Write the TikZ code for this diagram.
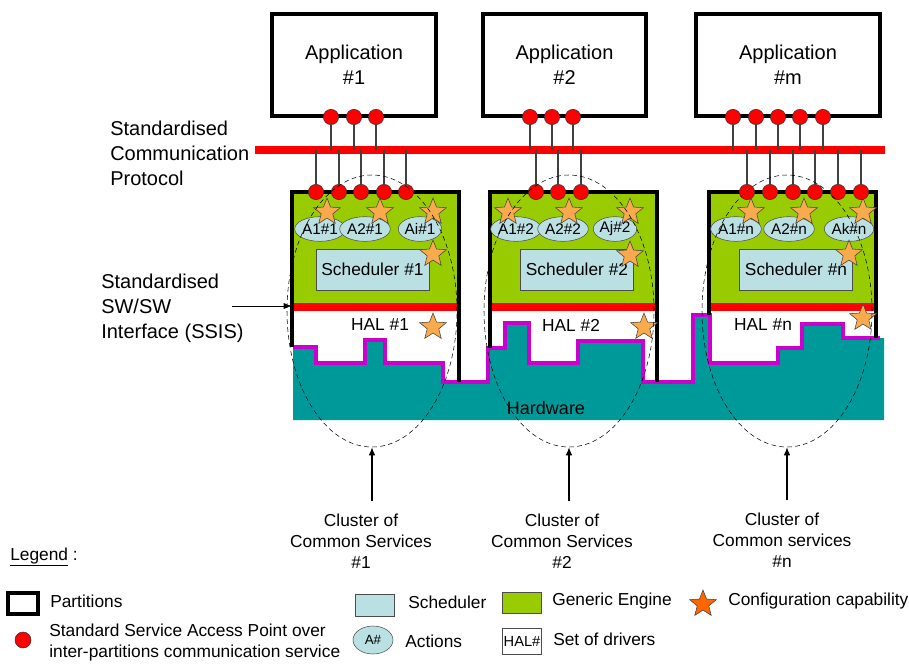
\documentclass[tikz,border=0pt]{standalone}
\usepackage{fontspec}
\setmainfont{Liberation Sans}
\usetikzlibrary{arrows.meta,positioning,shapes.geometric}
\definecolor{enggreen}{RGB}{153,204,0}
\definecolor{schedblue}{RGB}{187,224,227}
\definecolor{hwteal}{RGB}{0,153,153}
\definecolor{halmag}{RGB}{204,0,204}
\definecolor{cfgorange}{RGB}{248,170,76}
\definecolor{lgorange}{RGB}{255,102,0}
\tikzset{
  sap/.style={circle,draw=black!80,thin,fill=red,inner sep=0,minimum size=11.5pt},
  action/.style={ellipse,draw=black!70,fill=schedblue,inner sep=0,minimum width=28pt,minimum height=18.5pt,font=\fontsize{11.5}{11.5}\selectfont},
  sched/.style={draw=black!70,fill=schedblue,inner sep=0,minimum width=84.5pt,minimum height=30.5pt,font=\fontsize{13}{13}\selectfont},
  cfg/.style={star,star points=5,star point ratio=2.3,draw=black!75,fill=cfgorange,inner sep=0,minimum size=21pt},
  halname/.style={font=\fontsize{13}{13}\selectfont},
  cluster/.style={ellipse,draw,dash pattern=on 3.5pt off 2.5pt,thin,inner sep=0,minimum width=127.5pt,minimum height=204pt},
  caption/.style={align=center,inner ysep=9pt,font=\fontsize{13}{15.75}\selectfont},
  sidelabel/.style={anchor=west,align=left,inner sep=0,font=\fontsize{15}{18.75}\selectfont},
  legtext/.style={anchor=west,align=left,inner sep=0,font=\fontsize{13}{15.75}\selectfont},
  pointer/.style={-{Latex[length=6pt,width=5pt]},line width=0.9pt}
}
\begin{document}
\begin{tikzpicture}[x=0.75pt,y=-0.75pt]
  \useasboundingbox (0,0) rectangle (909,664);

  \begin{scope}[every node/.style={draw,line width=3pt,minimum height=76.5pt,align=center,font=\fontsize{15}{18.75}\selectfont}]
    \node (app1) [minimum width=123pt] at (354,65) {Application\\\#1};
    \node (app2) [minimum width=122.25pt] at (564.5,65) {Application\\\#2};
    \node (appm) [minimum width=138pt] at (788,65) {Application\\\#m};
  \end{scope}

  \node (bar) [fill=red,inner sep=0,minimum width=472.5pt,minimum height=6pt] at (570,150) {};
  \node (protolab) [sidelabel] at (110,153) {Standardised\\Communication\\Protocol};
  \node (ssislab) [sidelabel] at (101,308) {Standardised\\SW/SW\\Interface (SSIS)};

  \fill[hwteal] (293,347) -- (316,347) -- (316,363) -- (365,363) -- (365,340) -- (385,340) -- (385,363)
    -- (443,363) -- (443,382) -- (488,382) -- (488,348) -- (505,348) -- (505,323) -- (529,323)
    -- (529,363) -- (578,363) -- (578,341) -- (643,341) -- (643,382) -- (693,382) -- (693,315)
    -- (710,315) -- (710,363) -- (778,363) -- (778,348) -- (802,348) -- (802,324) -- (843,324)
    -- (843,338) -- (884,338) -- (884,420) -- (293,420) -- cycle;
  \draw[halmag,line width=3.5pt] (293,347) -- (316,347) -- (316,363) -- (365,363) -- (365,340) -- (385,340) -- (385,363)
    -- (443,363) -- (443,382) -- (488,382) -- (488,348) -- (505,348) -- (505,323) -- (529,323)
    -- (529,363) -- (578,363) -- (578,341) -- (643,341) -- (643,382) -- (693,382) -- (693,315)
    -- (710,315) -- (710,363) -- (778,363) -- (778,348) -- (802,348) -- (802,324) -- (843,324)
    -- (843,338) -- (880,338);
  \node (hw) [font=\fontsize{13.5}{13.5}\selectfont] at (546,408) {Hardware};

  \begin{scope}[every node/.style={fill=enggreen,inner sep=0,minimum width=125.25pt,minimum height=83.25pt}]
    \node (eng1) at (375.5,247.5) {};
    \node (eng2) at (573.5,247.5) {};
    \node (engn) at (792.5,247.5) {};
  \end{scope}
  \begin{scope}[every node/.style={fill=red,inner sep=0,minimum width=125.25pt,minimum height=6pt}]
    \node (ssis1) at (375.5,307) {};
    \node (ssis2) at (573.5,307) {};
    \node (ssisn) at (792.5,307) {};
  \end{scope}
  \draw[line width=3pt] (eng1.north west |- 0,347) -- (eng1.north west) -- (eng1.north east) -- (eng1.north east |- 0,382);
  \draw[line width=3pt] (eng2.north west |- 0,348) -- (eng2.north west) -- (eng2.north east) -- (eng2.north east |- 0,382);
  \draw[line width=3pt] (engn.north west |- 0,315) -- (engn.north west) -- (engn.north east) -- (engn.north east |- 0,338);

  \node (sch1) [sched] at (372.5,269.5) {Scheduler \#1};
  \node (sch2) [sched] at (577,269.5) {Scheduler \#2};
  \node (schn) [sched] at (796,269.5) {Scheduler \#n};

  \node (act11) [action] at (320,229) {A1\#1};
  \node (act12) [action] at (365,229) {A2\#1};
  \node (act1i) [action] at (420,229) {Ai\#1};
  \node (act21) [action] at (516,229) {A1\#2};
  \node (act22) [action] at (563,229) {A2\#2};
  \node (act2j) [action] at (615,229) {Aj\#2};
  \node (actn1) [action] at (736,229) {A1\#n};
  \node (actn2) [action] at (789,229) {A2\#n};
  \node (actnk) [action] at (849,229) {Ak\#n};

  \node (hal1) [halname] at (380,325) {HAL \#1};
  \node (hal2) [halname] at (571,325) {HAL \#2};
  \node (haln) [halname] at (763,325) {HAL \#n};

  \node (cfg11) [cfg] at (327,212) {};
  \node (cfg12) [cfg] at (380,212) {};
  \node (cfg13) [cfg] at (433,212) {};
  \node (cfg14) [cfg] at (433,254) {};
  \node (cfg15) [cfg] at (433,327) {};
  \node (cfg21) [cfg] at (508,212) {};
  \node (cfg22) [cfg] at (569,212) {};
  \node (cfg23) [cfg] at (630,212) {};
  \node (cfg24) [cfg] at (630,255) {};
  \node (cfg25) [cfg] at (644,327) {};
  \node (cfgn1) [cfg] at (751,212) {};
  \node (cfgn2) [cfg] at (804,212) {};
  \node (cfgn3) [cfg] at (863,212) {};
  \node (cfgn4) [cfg] at (849,254) {};
  \node (cfgn5) [cfg] at (863,318) {};

  \begin{scope}[every node/.style={sap}]
    \node (a11) at (331,117) {};
    \node (a12) at (354,117) {};
    \node (a13) at (376,117) {};
    \node (a21) at (530,117) {};
    \node (a22) at (552,117) {};
    \node (a23) at (573,117) {};
    \node (am1) at (733,117) {};
    \node (am2) at (756,117) {};
    \node (am3) at (778,117) {};
    \node (am4) at (800,117) {};
    \node (am5) at (823,117) {};
    \node (b11) at (316,192) {};
    \node (b12) at (339,192) {};
    \node (b13) at (361,192) {};
    \node (b14) at (384,192) {};
    \node (b15) at (406,192) {};
    \node (b21) at (536,192) {};
    \node (b22) at (558,192) {};
    \node (b23) at (581,192) {};
    \node (bn1) at (747,192) {};
    \node (bn2) at (770,192) {};
    \node (bn3) at (793,192) {};
    \node (bn4) at (815,192) {};
    \node (bn5) at (838,192) {};
    \node (bn6) at (861,192) {};
  \end{scope}

  \begin{scope}[every edge/.style={draw=black!75,line width=0.9pt}]
    \path (a11) edge (a11 |- bar);
    \path (a12) edge (a12 |- bar);
    \path (a13) edge (a13 |- bar);
    \path (a21) edge (a21 |- bar);
    \path (a22) edge (a22 |- bar);
    \path (a23) edge (a23 |- bar);
    \path (am1) edge (am1 |- bar);
    \path (am2) edge (am2 |- bar);
    \path (am3) edge (am3 |- bar);
    \path (am4) edge (am4 |- bar);
    \path (am5) edge (am5 |- bar);
    \path (b11) edge (b11 |- bar);
    \path (b12) edge (b12 |- bar);
    \path (b13) edge (b13 |- bar);
    \path (b14) edge (b14 |- bar);
    \path (b15) edge (b15 |- bar);
    \path (b21) edge (b21 |- bar);
    \path (b22) edge (b22 |- bar);
    \path (b23) edge (b23 |- bar);
    \path (bn1) edge (bn1 |- bar);
    \path (bn2) edge (bn2 |- bar);
    \path (bn3) edge (bn3 |- bar);
    \path (bn4) edge (bn4 |- bar);
    \path (bn5) edge (bn5 |- bar);
    \path (bn6) edge (bn6 |- bar);
  \end{scope}

  \coordinate (ssisfrom) at (232,306);
  \draw[-{Latex[length=6pt,width=4.5pt]},thin] (ssisfrom) -- (ssisfrom -| eng1.west);

  \node (cl1) [cluster] at (372,311) {};
  \node (cl2) [cluster] at (569,311) {};
  \node (cln) [cluster] at (787,311) {};
  \node (lab1) [caption] at (361,541) {Cluster of\\Common Services\\\#1};
  \node (lab2) [caption] at (562,541) {Cluster of\\Common Services\\\#2};
  \node (labn) [caption] at (782,540) {Cluster of\\Common services\\\#n};
  \draw[pointer] (cl1.south |- lab1.north) -- (cl1.south);
  \draw[pointer] (cl2.south |- lab2.north) -- (cl2.south);
  \draw[pointer] (cln.south |- labn.north) -- (cln.south);

  \node (legend) [legtext] at (10,557) {\underline{Legend} :};
  \node (lgpart) [draw,line width=3pt,inner sep=0,minimum width=22.5pt,minimum height=15.75pt] at (23,603.5) {};
  \node (lgparttxt) [legtext] at (50,601) {Partitions};
  \node (lgsap) [sap,minimum size=12pt] at (23,640) {};
  \node (lgsaptxt) [legtext] at (49,643) {Standard Service Access Point over\\inter-partitions communication service};
  \node (lgsched) [draw=black!70,fill=schedblue,inner sep=0,minimum width=29pt,minimum height=16.5pt] at (375,605) {};
  \node (lgschedtxt) [legtext] at (408,602) {Scheduler};
  \node (lgact) [ellipse,draw=black!70,fill=schedblue,inner sep=0,minimum width=30pt,minimum height=21pt,font=\fontsize{10}{10}\selectfont] at (373,640) {A\#};
  \node (lgacttxt) [legtext] at (405,641) {Actions};
  \node (lgeng) [draw=black!70,fill=enggreen,inner sep=0,minimum width=29pt,minimum height=16pt] at (522,603) {};
  \node (lgengtxt) [legtext] at (552,601) {Generic Engine};
  \node (lghal) [draw=black!70,inner sep=0,minimum width=29pt,minimum height=19.5pt,font=\fontsize{11}{11}\selectfont] at (522,641) {HAL\#};
  \node (lghaltxt) [legtext] at (553,639) {Set of drivers};
  \node (lgcfg) [cfg,fill=lgorange,minimum size=21pt] at (703,604) {};
  \node (lgcfgtxt) [legtext] at (728,601) {Configuration capability};
\end{tikzpicture}
\end{document}
